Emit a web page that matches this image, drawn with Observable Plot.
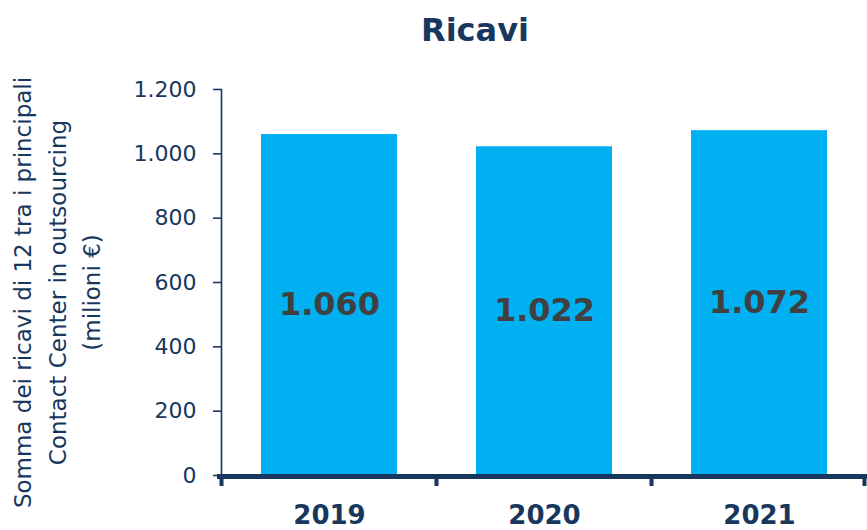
<!DOCTYPE html>
<html>
<head>
<meta charset="utf-8">
<script src="https://cdn.jsdelivr.net/npm/d3@7"></script>
<script src="https://cdn.jsdelivr.net/npm/@observablehq/plot@0.6"></script>
<style>
  html, body { margin: 0; padding: 0; background: #fff; }
  #wrap { position: relative; width: 867px; height: 530px; font-family: "DejaVu Sans", sans-serif; }
  #title { position: absolute; left: 0; width: 950px; top: 11px; text-align: center; font-size: 32px; font-weight: bold; color: #17375E; }
  svg { display: block; }
</style>
</head>
<body>
<div id="wrap"><div id="title">Ricavi</div><div id="chart"></div></div>
<script>
const years = ["2019", "2020", "2021"];
const revenues = [1060, 1022, 1072];
const yTicks = [0, 200, 400, 600, 800, 1000, 1200];
const yLabel = "Somma dei ricavi di 12 tra i principali\nContact Center in outsourcing\n(milioni €)";
const title = "Ricavi";

const navy = "#17375E";
const barColor = "#00B0F0";
const itFmt = d3.formatLocale({decimal: ",", thousands: ".", grouping: [3], currency: ["", " €"]}).format(",");

const data = years.map((y, i) => ({year: y, value: revenues[i]}));
document.getElementById("title").textContent = title;

const chart = Plot.plot({
  width: 867,
  height: 530,
  marginLeft: 221,
  marginRight: 0,
  marginTop: 89,
  marginBottom: 55,
  style: {fontFamily: "DejaVu Sans, sans-serif", color: navy, background: "white"},
  x: {domain: years, paddingInner: 0.367, paddingOuter: 0.1835, align: 0.5},
  y: {domain: [0, 1200]},
  marks: [
    Plot.barY(data, {x: "year", y: "value", fill: barColor}),
    Plot.text(data, {x: "year", y: d => d.value / 2, text: d => itFmt(d.value), fontSize: 32, fontWeight: "bold", fill: "#404040"}),
    Plot.frame({anchor: "left", stroke: navy, strokeWidth: 1.6}),
    Plot.axisY({ticks: yTicks, tickFormat: itFmt, tickSize: 8, tickPadding: 17, fontSize: 22, stroke: navy, strokeWidth: 1.6, fill: navy, label: null}),
    Plot.ruleY([0], {stroke: navy, strokeWidth: 5, dy: 1, insetLeft: -4}),
    Plot.axisX({tickSize: 0, tickPadding: 30, fontSize: 26, fontWeight: "bold", fill: navy, label: null}),
    Plot.text([yLabel], {frameAnchor: "left", textAnchor: "middle", dx: -167, dy: 10, rotate: -90, fontSize: 23, lineHeight: 1.5, fill: navy})
  ]
});
document.getElementById("chart").appendChild(chart);

// band-boundary ticks under the x axis, from the library's x scale
const sx = chart.scale("x");
const sy = chart.scale("y");
const gap = (sx.step - sx.bandwidth) / 2;
const bounds = years.map(y => sx.apply(y) - gap);
bounds.push(sx.apply(years[years.length - 1]) + sx.bandwidth + gap - 2);
const y0 = sy.apply(0);
d3.select(chart).append("g")
  .selectAll("line").data(bounds).join("line")
  .attr("x1", d => d).attr("x2", d => d)
  .attr("y1", y0).attr("y2", y0 + 11)
  .attr("stroke", navy).attr("stroke-width", 4);
</script>
</body>
</html>
